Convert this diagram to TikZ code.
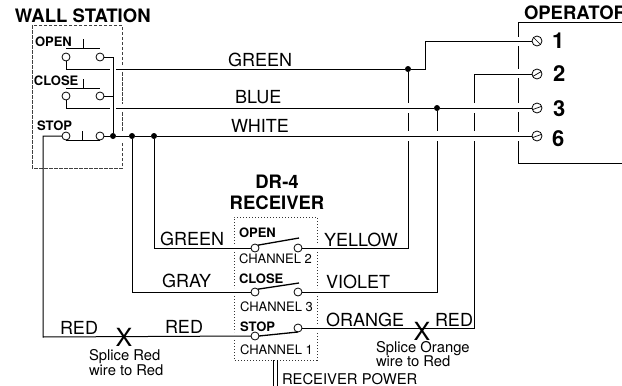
\documentclass[tikz,border=0pt]{standalone}
\usepackage{fontspec}
\setmainfont{TeX Gyre Heros}
\usepackage{tikz}
\usetikzlibrary{calc}

\begin{document}
\begin{tikzpicture}[x=1pt,y=-1pt,line width=1pt]
    \tikzstyle{every node}=[inner sep=0pt,outer sep=0pt]
    \tikzstyle{head}=[anchor=base west,font=\fontsize{18.5}{18.5}\selectfont\bfseries]
    \tikzstyle{num}=[anchor=base west,font=\fontsize{22}{22}\selectfont\bfseries]
    \tikzstyle{wirelabel}=[anchor=base west,font=\fontsize{18}{18}\selectfont]
    \tikzstyle{swlabel}=[anchor=base west,font=\fontsize{13}{13}\selectfont\bfseries]
    \tikzstyle{chlabel}=[anchor=base west,font=\fontsize{13}{13}\selectfont]
    \tikzstyle{note}=[anchor=base west,font=\fontsize{14.8}{14.8}\selectfont]
    \tikzstyle{splice}=[font=\fontsize{25}{25}\selectfont]
    \tikzstyle{contact}=[circle,draw,fill=white,line width=0.8pt,minimum size=8pt]
    \tikzstyle{screw}=[circle,draw,fill=white,line width=0.8pt,minimum size=10pt]
    \tikzstyle{dot}=[circle,fill=black,minimum size=6pt]
    \tikzstyle{boxdash}=[black!75,dash pattern=on 3.5pt off 1.5pt]
    \tikzstyle{boxdot}=[black!80,line width=0.8pt,dash pattern=on 1.3pt off 1.7pt]

    \useasboundingbox (0,0) rectangle (622,386);

    % wall station box
    \draw[boxdash] (122,65) -- (122,25) -- (32,25) -- (32,168) -- (122,168) -- (122,142);
    \draw[boxdash] (122,72) -- (122,104);
    \draw[boxdash] (122,112) -- (122,132);
    % receiver box
    \draw[boxdot] (234,244) -- (234,217) -- (317,217) -- (317,244);
    \draw[boxdot] (234,252) -- (234,288);
    \draw[boxdot] (234,296) -- (234,332);
    \draw[boxdot] (234,340) -- (234,360) -- (317,360) -- (317,332);
    \draw[boxdot] (317,252) -- (317,288);
    \draw[boxdot] (317,296) -- (317,324);
    % operator box
    \draw (622,22) -- (518.5,22) -- (518.5,37);
    \draw (518.5,46) -- (518.5,69);
    \draw (518.5,78) -- (518.5,103);
    \draw (518.5,112) -- (518.5,132);
    \draw (518.5,141) -- (518.5,163) -- (622,163);

    % titles
    \node[head] (wall) at (15,22) {WALL STATION};
    \node[head] (operator) at (524,19) {OPERATOR};
    \node[head,anchor=base] (dr4) at (277,188) {DR-4};
    \node[head,anchor=base] (receiver) at (277,209) {RECEIVER};

    % contacts of the wall station
    \node[contact] (wo1) at (66,57) {};
    \node[contact] (wo2) at (100,57) {};
    \node[contact] (wc1) at (66,96) {};
    \node[contact] (wc2) at (100,96) {};
    \node[contact] (ws1) at (66,136) {};
    \node[contact] (ws2) at (100,136) {};
    \node[swlabel] (wopen) at (35,46) {OPEN};
    \node[swlabel] (wclose) at (34,85) {CLOSE};
    \node[swlabel] (wstop) at (37,130) {STOP};
    % push buttons
    \draw (66,48) -- (100,48) (83,48) -- (83,39);
    \draw (66,88) -- (100,88) (83,88) -- (83,79);
    \draw (ws1.south) -- (ws2.south) (82,140) -- (82,131);

    % contacts of the receiver
    \node[contact] (ro1) at (255,248) {};
    \node[contact] (ro2) at (298,248) {};
    \node[contact] (rc1) at (255,292) {};
    \node[contact] (rc2) at (298,292) {};
    \node[contact] (rs1) at (255,336) {};
    \node[contact] (rs2) at (298,328) {};
    \node[swlabel] (ropen) at (239,237) {OPEN};
    \node[swlabel] (rclose) at (239,283) {CLOSE};
    \node[swlabel] (rstop) at (240,331) {STOP};
    \node[chlabel] (ch2) at (239,263) {CHANNEL 2};
    \node[chlabel] (ch3) at (240,311) {CHANNEL 3};
    \node[chlabel] (ch1) at (240,354) {CHANNEL 1};
    % blades
    \draw[line width=1.3pt] (ro1.north east) -- (299,238);
    \draw[line width=1.3pt] (rc1.north east) -- (299,283);
    \draw[line width=1.3pt] (rs1.east) -- (rs2.south);

    % terminals of the operator
    \node[screw] (t1) at (537,41) {};
    \node[screw] (t2) at (537,74) {};
    \node[screw] (t3) at (537,108) {};
    \node[screw] (t6) at (537,136) {};
    \draw[line width=0.7pt] (t1.135) -- (t1.315);
    \draw[line width=0.7pt] (t2.210) -- (t2.30);
    \draw[line width=0.7pt] (t3.200) -- (t3.20);
    \draw[line width=0.7pt] (t6.200) -- (t6.20);
    \node[num] (n1) at (552,48) {1};
    \node[num] (n2) at (553,81) {2};
    \node[num] (n3) at (553,116) {3};
    \node[num] (n6) at (552,146) {6};

    % junctions
    \node[dot] (j1) at (113,136) {};
    \node[dot] (j2) at (132,136) {};
    \node[dot] (j3) at (154,136) {};
    \node[dot] (j4) at (408,69) {};
    \node[dot] (j5) at (437,108) {};

    % common of the wall station
    \draw (wo2.east) -- (113,57) -- (j1);
    \draw (wc2.east) -- (113,96);
    \draw (ws2.east) -- (j1) -- (j2) -- (j3) -- (t6.west);
    % green wire
    \draw (wo1.south) -- (66,69) -- (110,69);
    \draw (116,69) -- (j4) -- (425,69) -- (425,41) -- (t1.west);
    % blue wire
    \draw (wc1.south) -- (66,108) -- (110,108);
    \draw (116,108) -- (j5) -- (t3.west);
    % red wire
    \draw (ws1.west) -- (43,136) -- (43,337) -- (rs1.west);
    % receiver commons
    \draw (j3) -- (154,248) -- (ro1.west);
    \draw (j2) -- (132,292) -- (rc1.west);
    % yellow wire
    \draw (j4) -- (408,103);
    \draw (408,113) -- (408,131);
    \draw (408,141) -- (408,248) -- (ro2.east);
    % violet wire
    \draw (j5) -- (437,131);
    \draw (437,141) -- (437,292) -- (rc2.east);
    % orange and red wire
    \draw (rs2.east) -- (474,328) -- (474,141);
    \draw (474,131) -- (474,113);
    \draw (474,103) -- (474,74) -- (t2.west);
    % receiver power
    \draw (273,360) -- (273,386);
    \draw (277,360) -- (277,386);

    % wire labels
    \node[wirelabel] (lgreen) at (228,66) {GREEN};
    \node[wirelabel] (lblue) at (235,103) {BLUE};
    \node[wirelabel] (lwhite) at (231,132) {WHITE};
    \node[wirelabel] (lgreen2) at (160,245) {GREEN};
    \node[wirelabel] (lgray) at (162,287) {GRAY};
    \node[wirelabel] (lred1) at (60,334) {RED};
    \node[wirelabel] (lred2) at (165,333) {RED};
    \node[wirelabel] (lyellow) at (324,246) {YELLOW};
    \node[wirelabel] (lviolet) at (326,288) {VIOLET};
    \node[wirelabel] (lorange) at (326,326) {ORANGE};
    \node[wirelabel] (lred3) at (435,326) {RED};

    % splices
    \node[splice] (x1) at (124,337) {X};
    \node[splice] (x2) at (422,331) {X};
    \node[note] (s1a) at (89,360) {Splice Red};
    \node[note] (s1b) at (89,375) {wire to Red};
    \node[note] (s2a) at (376,352) {Splice Orange};
    \node[note] (s2b) at (376,366) {wire to Red};
    \node[note] (power) at (282,384) {RECEIVER POWER};
\end{tikzpicture}
\end{document}
